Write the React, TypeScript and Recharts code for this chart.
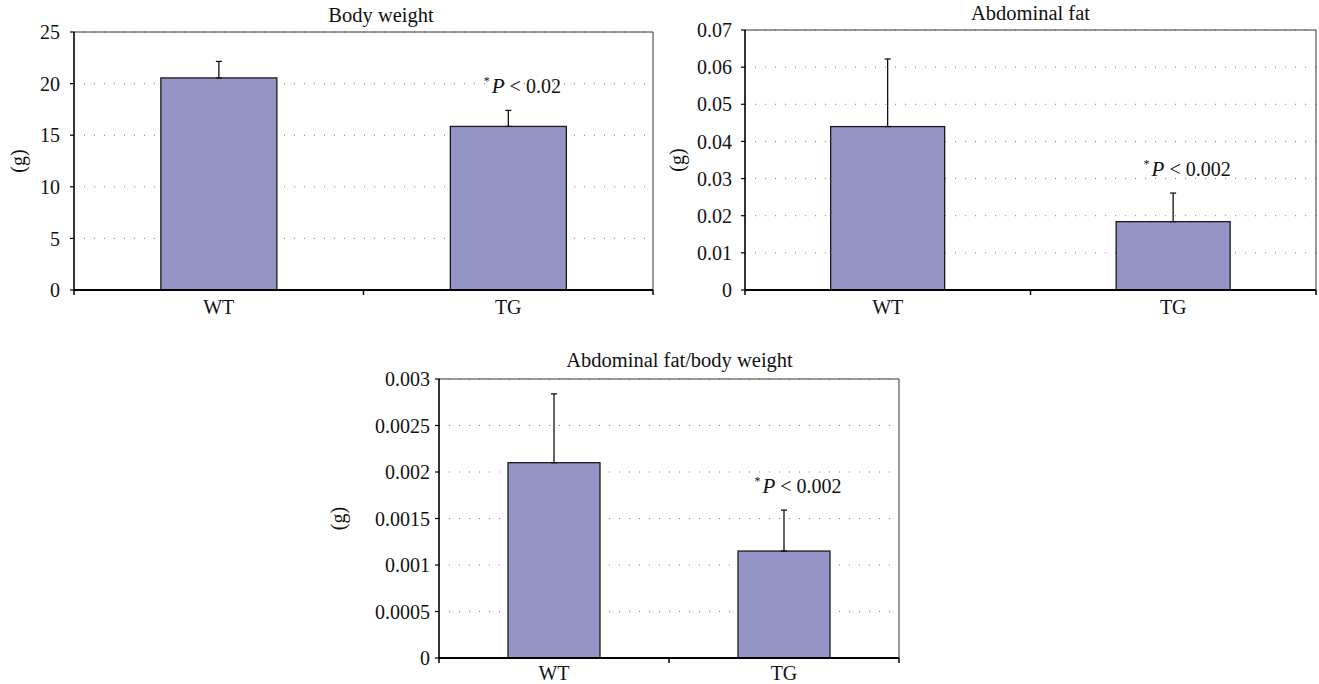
import React from 'react';
import { BarChart, Bar, XAxis, YAxis, CartesianGrid, ErrorBar, ReferenceLine } from 'recharts';

const categories = ['WT', 'TG'];

const bodyWeight = [20.55, 15.85];
const bodyWeightErr = [1.6, 1.55];
const bodyWeightNotes = ['', '*P < 0.02'];
const bodyWeightTicks = [0, 5, 10, 15, 20, 25];

const abdominalFat = [0.044, 0.0184];
const abdominalFatErr = [0.0182, 0.0077];
const abdominalFatNotes = ['', '*P < 0.002'];
const abdominalFatTicks = [0, 0.01, 0.02, 0.03, 0.04, 0.05, 0.06, 0.07];

const fatRatio = [0.0021, 0.00115];
const fatRatioErr = [0.00074, 0.00044];
const fatRatioNotes = ['', '*P < 0.002'];
const fatRatioTicks = [0, 0.0005, 0.001, 0.0015, 0.002, 0.0025, 0.003];

const FONT = 'Liberation Serif, Times New Roman, serif';
const BAR_FILL = '#9494c6';

type Row = { name: string; value: number; err: [number, number]; note: string };

const buildRows = (values: number[], errs: number[], notes: string[]): Row[] =>
  categories.map((name, i) => ({ name, value: values[i], err: [0, errs[i]], note: notes[i] }));

type Layout = {
  left: number;
  top: number;
  width: number;
  height: number;
  marginTop: number;
  marginRight: number;
  yAxisWidth: number;
  xAxisHeight: number;
  yTickMargin: number;
  yLabelX: number;
  titleDx: number;
  titleGap: number;
  xLabelDy: number;
};

const NoteText = ({ x, y, note }: { x: number; y: number; note: string }) => {
  const star = note.startsWith('*');
  const rest = star ? note.slice(1) : note;
  const p = rest.startsWith('P') ? 'P' : '';
  const tail = p ? rest.slice(1) : rest;
  return (
    <text x={x} y={y} textAnchor="middle" fontFamily={FONT} style={{ fontFamily: FONT }} fontSize={20} fill="#111">
      {star && (
        <tspan fontSize={12} dy={-8}>
          *
        </tspan>
      )}
      {p && (
        <tspan fontStyle="italic" fontSize={21} dy={star ? 8 : 0} dx={2}>
          {p}
        </tspan>
      )}
      <tspan>{tail}</tspan>
    </text>
  );
};

const makeBarShape = () => (props: any) => {
  const { x, y, width, height, payload } = props;
  const row: Row | undefined = payload;
  let note: React.ReactNode = null;
  if (row && row.note && row.value) {
    const pxPerUnit = height / row.value;
    const errTop = y - row.err[1] * pxPerUnit;
    note = <NoteText x={x + width / 2 + 14} y={errTop - 17} note={row.note} />;
  }
  return (
    <g>
      <rect x={x} y={y} width={width} height={height} fill={BAR_FILL} stroke="#1a1a1a" strokeWidth={1.3} />
      {note}
    </g>
  );
};

const makeXTick = (bw: number, labelDy: number) => (p: any) => {
  const { x, y, payload, index } = p;
  return (
    <g>
      {index === 0 && (
        <line x1={x - bw / 2} x2={x - bw / 2} y1={y} y2={y + 5} stroke="#000" strokeWidth={1.5} />
      )}
      <line x1={x + bw / 2} x2={x + bw / 2} y1={y} y2={y + 5} stroke="#000" strokeWidth={1.5} />
      <text
        x={x}
        y={y + labelDy}
        textAnchor="middle"
        fontFamily={FONT}
        style={{ fontFamily: FONT }}
        fontSize={20}
        fill="#111"
      >
        {payload.value}
      </text>
    </g>
  );
};

const YTick = (p: any) => {
  const { x, y, payload } = p;
  return (
    <text
      x={x}
      y={y}
      dy="0.36em"
      textAnchor="end"
      fontFamily={FONT}
      style={{ fontFamily: FONT }}
      fontSize={20}
      fill="#111"
    >
      {String(payload.value)}
    </text>
  );
};

const Panel = ({
  title,
  rows,
  ticks,
  layout,
}: {
  title: string;
  rows: Row[];
  ticks: number[];
  layout: Layout;
}) => {
  const L = layout;
  const plotW = L.width - L.marginRight - L.yAxisWidth;
  const plotTop = L.marginTop;
  const plotBottom = L.height - L.xAxisHeight;
  const plotCenterY = (plotTop + plotBottom) / 2;
  const plotCenterX = L.yAxisWidth + plotW / 2;
  const domainMax = ticks[ticks.length - 1];
  const lastCat = categories[categories.length - 1];
  return (
    <div style={{ position: 'absolute', left: L.left, top: L.top, width: L.width, height: L.height }}>
      <BarChart
        width={L.width}
        height={L.height}
        data={rows}
        margin={{ top: L.marginTop, right: L.marginRight, bottom: 0, left: 0 }}
        barCategoryGap="30%"
      >
        <CartesianGrid vertical={false} stroke="#777" strokeDasharray="1 9" />
        <XAxis
          dataKey="name"
          height={L.xAxisHeight}
          axisLine={{ stroke: '#000', strokeWidth: 2 }}
          tickLine={false}
          tickSize={0}
          tickMargin={0}
          interval={0}
          tick={makeXTick(plotW / 2, L.xLabelDy)}
        />
        <YAxis
          domain={[0, domainMax]}
          ticks={ticks}
          interval={0}
          width={L.yAxisWidth}
          axisLine={{ stroke: '#000', strokeWidth: 1.6 }}
          tickLine={{ stroke: '#000', strokeWidth: 1.2 }}
          tickSize={4}
          tickMargin={L.yTickMargin}
          tick={YTick}
          label={{
            content: () => (
              <text
                x={L.yLabelX}
                y={plotCenterY}
                transform={`rotate(-90 ${L.yLabelX} ${plotCenterY})`}
                textAnchor="middle"
                dominantBaseline="central"
                fontFamily={FONT}
                style={{ fontFamily: FONT }}
                fontSize={20}
                fill="#111"
              >
                (g)
              </text>
            ),
          }}
        />
        <ReferenceLine
          y={domainMax}
          stroke="#333"
          strokeWidth={1}
          ifOverflow="extendDomain"
          label={{
            content: () => (
              <text
                x={plotCenterX + L.titleDx}
                y={plotTop - L.titleGap}
                textAnchor="middle"
                fontFamily={FONT}
                style={{ fontFamily: FONT }}
                fontSize={20.5}
                fill="#111"
              >
                {title}
              </text>
            ),
          }}
        />
        <ReferenceLine x={lastCat} position="end" stroke="#333" strokeWidth={1} />
        <Bar dataKey="value" isAnimationActive={false} shape={makeBarShape()}>
          <ErrorBar dataKey="err" direction="y" width={3} stroke="#111" strokeWidth={1.3} />
        </Bar>
      </BarChart>
    </div>
  );
};

const layout1: Layout = {
  left: 0,
  top: 0,
  width: 660,
  height: 330,
  marginTop: 32,
  marginRight: 7,
  yAxisWidth: 74,
  xAxisHeight: 40,
  yTickMargin: 10,
  yLabelX: 18,
  titleDx: 17.5,
  titleGap: 10,
  xLabelDy: 24,
};

const layout2: Layout = {
  left: 655,
  top: 0,
  width: 664,
  height: 330,
  marginTop: 30,
  marginRight: 3,
  yAxisWidth: 90,
  xAxisHeight: 40,
  yTickMargin: 9,
  yLabelX: 22,
  titleDx: 0,
  titleGap: 10,
  xLabelDy: 24,
};

const layout3: Layout = {
  left: 300,
  top: 330,
  width: 619,
  height: 354,
  marginTop: 49,
  marginRight: 20,
  yAxisWidth: 139,
  xAxisHeight: 26,
  yTickMargin: 5,
  yLabelX: 37.5,
  titleDx: 10.5,
  titleGap: 12,
  xLabelDy: 21.5,
};

export default function App() {
  return (
    <div
      style={{
        position: 'absolute',
        left: 0,
        top: 0,
        width: 1319,
        height: 684,
        background: '#fff',
        fontFamily: FONT,
      }}
    >
      <Panel
        title="Body weight"
        rows={buildRows(bodyWeight, bodyWeightErr, bodyWeightNotes)}
        ticks={bodyWeightTicks}
        layout={layout1}
      />
      <Panel
        title="Abdominal fat"
        rows={buildRows(abdominalFat, abdominalFatErr, abdominalFatNotes)}
        ticks={abdominalFatTicks}
        layout={layout2}
      />
      <Panel
        title="Abdominal fat/body weight"
        rows={buildRows(fatRatio, fatRatioErr, fatRatioNotes)}
        ticks={fatRatioTicks}
        layout={layout3}
      />
    </div>
  );
}
